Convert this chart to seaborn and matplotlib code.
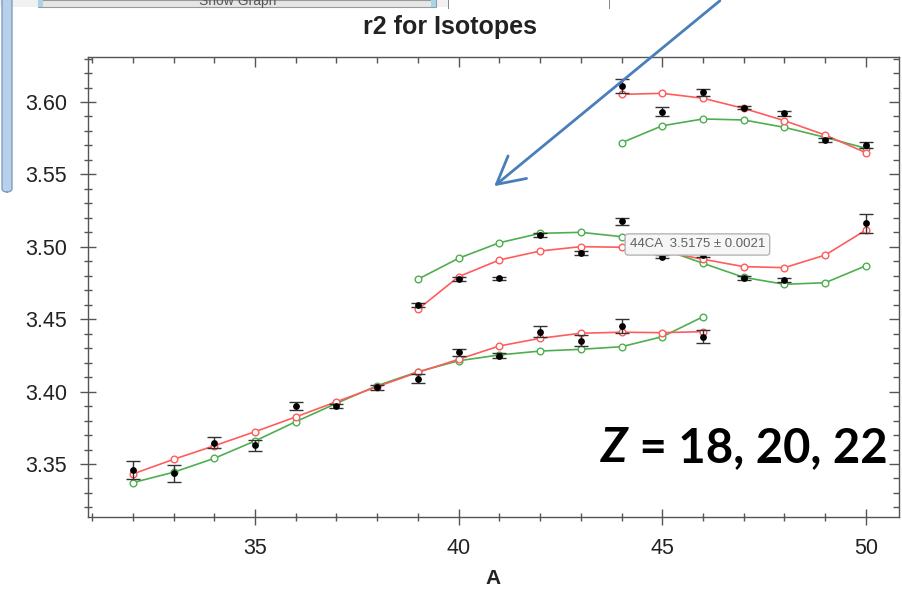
import matplotlib
matplotlib.use("Agg")
import matplotlib.pyplot as plt
from matplotlib.patches import Rectangle, FancyArrowPatch, FancyBboxPatch
from matplotlib.ticker import MultipleLocator, FormatStrFormatter, NullFormatter
import seaborn as sns

# ---- Argon chain (Z = 18) ----
ar_A = [32, 33, 34, 35, 36, 37, 38, 39, 40, 41, 42, 43, 44, 45, 46]
ar_fit_red = [3.3431, 3.3532, 3.3626, 3.3723, 3.3825, 3.3930, 3.4034, 3.4133,
              3.4223, 3.4315, 3.4368, 3.4403, 3.4410, 3.4407, 3.4414]
ar_fit_green = [3.3371, 3.3443, 3.3539, 3.3659, 3.3792, 3.3919, 3.4041, 3.4137,
                3.4213, 3.4253, 3.4280, 3.4292, 3.4310, 3.4379, 3.4517]
ar_exp_A = [32, 33, 34, 35, 36, 37, 38, 39, 40, 41, 42, 43, 44, 46]
ar_exp = [3.3459, 3.3436, 3.3647, 3.3629, 3.3901, 3.3903, 3.4030, 3.4089,
          3.4271, 3.4248, 3.4414, 3.4352, 3.4453, 3.4379]
ar_err = [0.0061, 0.0060, 0.0040, 0.0039, 0.0026, 0.0014, 0.0017, 0.0032,
          0.0026, 0.0017, 0.0038, 0.0038, 0.0048, 0.0046]

# ---- Calcium chain (Z = 20) ----
ca_A = [39, 40, 41, 42, 43, 44, 45, 46, 47, 48, 49, 50]
ca_fit_red = [3.4568, 3.4794, 3.4909, 3.4971, 3.5001, 3.4997, 3.4968, 3.4914,
              3.4863, 3.4856, 3.4943, 3.5116]
ca_fit_green = [3.4776, 3.4921, 3.5028, 3.5093, 3.5100, 3.5070, 3.4985, 3.4886,
                3.4789, 3.4741, 3.4752, 3.4869]
ca_exp_A = [39, 40, 41, 42, 43, 44, 45, 46, 47, 48, 50]
ca_exp = [3.4598, 3.4776, 3.4782, 3.5081, 3.4955, 3.5175, 3.4932, 3.4943,
          3.4782, 3.4771, 3.5162]
ca_err = [0.0017, 0.0012, 0.0012, 0.0014, 0.0014, 0.0021, 0.0012, 0.0012,
          0.0014, 0.0014, 0.0065]

# ---- Titanium chain (Z = 22) ----
ti_A = [44, 45, 46, 47, 48, 49, 50]
ti_fit_red = [3.6053, 3.6060, 3.6026, 3.5956, 3.5871, 3.5772, 3.5650]
ti_fit_green = [3.5719, 3.5836, 3.5883, 3.5876, 3.5825, 3.5756, 3.5680]
ti_exp = [3.6110, 3.5933, 3.6067, 3.5961, 3.5922, 3.5738, 3.5703]
ti_err = [0.0048, 0.0032, 0.0023, 0.0010, 0.0017, 0.0014, 0.0021]

tooltip_index = 5  # 44Ca

RED = "#ff5c5c"
GREEN = "#4fae4f"
BLUE = "#4a7ebb"

sns.set_style("white")
plt.rcParams["font.family"] = ["Liberation Sans", "DejaVu Sans"]

fig = plt.figure(figsize=(9.03, 5.98), dpi=100)
ax = fig.add_axes([0.0975, 0.1355, 0.898, 0.7692])

chains = [
    (ar_A, ar_fit_red, ar_fit_green, ar_exp_A, ar_exp, ar_err),
    (ca_A, ca_fit_red, ca_fit_green, ca_exp_A, ca_exp, ca_err),
    (ti_A, ti_fit_red, ti_fit_green, ti_A, ti_exp, ti_err),
]

for A, red, green, eA, ev, ee in chains:
    for vals, col in ((green, GREEN), (red, RED)):
        sns.lineplot(x=A, y=vals, ax=ax, color=col, linewidth=1.2,
                     marker="o", markersize=4.8, markerfacecolor="white",
                     markeredgecolor=col, markeredgewidth=1.0, zorder=2)
    ax.errorbar(eA, ev, yerr=ee, fmt="none", ecolor="#333333",
                elinewidth=1.0, capsize=4.8, capthick=1.0, zorder=3)
    sns.scatterplot(x=eA, y=ev, ax=ax, color="black", s=24,
                    edgecolor="black", linewidth=0, zorder=4)

ax.set_xlim(30.9, 50.81)
ax.set_ylim(3.3134, 3.6311)

for side in ax.spines.values():
    side.set_color("#555555")
    side.set_linewidth(1.0)

# bottom / left: ticks crossing the frame, with labels
ax.xaxis.set_major_locator(MultipleLocator(5))
ax.xaxis.set_minor_locator(MultipleLocator(1))
ax.yaxis.set_major_locator(MultipleLocator(0.05))
ax.yaxis.set_minor_locator(MultipleLocator(0.01))
ax.yaxis.set_major_formatter(FormatStrFormatter("%.2f"))
ax.tick_params(axis="both", which="both", colors="#555555",
               labelcolor="#222222", labelsize=15.5, width=1.0,
               bottom=True, left=True, top=False, right=False)
ax.tick_params(axis="y", which="major", direction="inout", length=12, pad=9)
ax.tick_params(axis="y", which="minor", direction="inout", length=6)
ax.tick_params(axis="x", which="major", direction="inout", length=12, pad=9)
ax.tick_params(axis="x", which="minor", direction="inout", length=6)

# top / right: inward ticks only
top = ax.secondary_xaxis("top")
top.xaxis.set_major_locator(MultipleLocator(5))
top.xaxis.set_minor_locator(MultipleLocator(1))
top.xaxis.set_major_formatter(NullFormatter())
top.tick_params(which="major", direction="in", length=7, width=1.0, colors="#555555")
top.tick_params(which="minor", direction="in", length=4, width=1.0, colors="#555555")
top.spines["top"].set_visible(False)
right = ax.secondary_yaxis("right")
right.yaxis.set_major_locator(MultipleLocator(0.05))
right.yaxis.set_minor_locator(MultipleLocator(0.01))
right.yaxis.set_major_formatter(NullFormatter())
right.tick_params(which="major", direction="in", length=7, width=1.0, colors="#555555")
right.tick_params(which="minor", direction="in", length=4, width=1.0, colors="#555555")
right.spines["right"].set_visible(False)

ax.set_xlabel("A", fontsize=15, fontweight="bold", color="#222222", labelpad=7)
ax.set_ylabel("")

# value tooltip over the 44Ca point
tip = f"44CA  {ca_exp[tooltip_index]:.4f} ± {ca_err[tooltip_index]:.4f}"
ax.text(44.2, 3.5016, tip, fontsize=9.5, color="#606060", ha="left",
        va="center", zorder=6,
        bbox=dict(boxstyle="round,pad=0.35,rounding_size=0.25",
                  facecolor="#f6f6f6", edgecolor="#b5b5b5", linewidth=1.0))

# chain annotation
zt = ax.text(0.633, 0.12, "Z", transform=ax.transAxes, fontsize=34,
             fontweight="bold", fontstyle="italic", family="Lato",
             color="black", ha="left", va="baseline", zorder=6)
ax.annotate(" = 18, 20, 22", xy=(1, 0), xycoords=zt, fontsize=34,
            fontweight="bold", family="Lato", color="black",
            ha="left", va="bottom", zorder=6)

# title
fig.text(0.4985, 0.955, "r2 for Isotopes", fontsize=18, fontweight="bold",
         color="#222222", ha="center", va="center")

# window frame remnants along the top-left edge
W, H = 903.0, 598.0
def px_rect(x0, y0, x1, y1, **kw):
    fig.add_artist(Rectangle((x0 / W, 1 - y1 / H), (x1 - x0) / W, (y1 - y0) / H,
                             transform=fig.transFigure, **kw))

px_rect(0, 0, 449, 7, facecolor="#f1f1f1", edgecolor="none")
px_rect(38, 0, 436, 7, facecolor="#e6e6e6", edgecolor="#9a9a9a", linewidth=0.8)
px_rect(38, 0, 43, 7, facecolor="#a9d3e8", edgecolor="none")
px_rect(431, 0, 436, 7, facecolor="#a9d3e8", edgecolor="none")
px_rect(448, 0, 449.5, 9, facecolor="#8a8a8a", edgecolor="none")
px_rect(609, 0, 610.5, 9, facecolor="#8a8a8a", edgecolor="none")
fig.add_artist(FancyBboxPatch((2 / W, 1 - 192 / H), 10 / W, 200 / H,
                              boxstyle="round,pad=0,rounding_size=0.006",
                              transform=fig.transFigure,
                              facecolor="#b8d0ea", edgecolor="#7f9fc2",
                              linewidth=1.0))
fig.text(238 / W, 1 - 5 / H, "Show Graph", fontsize=10, color="#555555",
         ha="center", va="baseline")

# pointer arrow
fig.add_artist(FancyArrowPatch((722 / W, 1 + 1 / H), (492 / W, 1 - 188 / H),
                               transform=fig.transFigure,
                               arrowstyle="->,head_length=13,head_width=7",
                               color=BLUE, linewidth=2.0, mutation_scale=1.5))

fig.savefig("out.png", dpi=100, facecolor="white")
